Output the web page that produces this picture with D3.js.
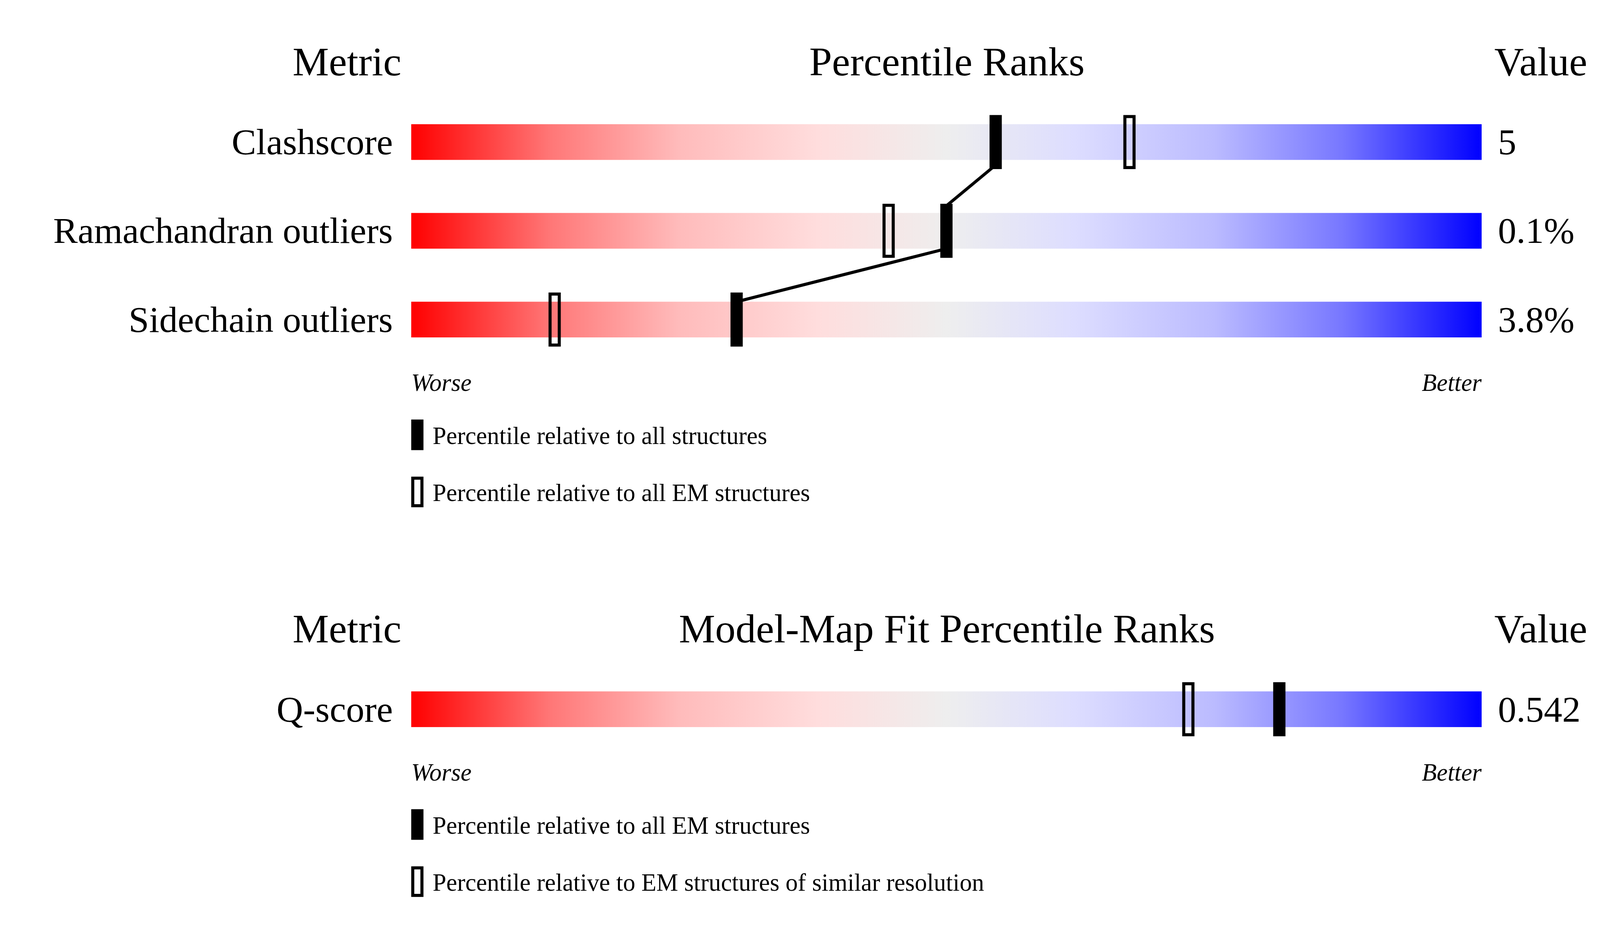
<!DOCTYPE html>
<html><head><meta charset="utf-8">
<script src="https://cdn.jsdelivr.net/npm/d3@7"></script>
<style>html,body{margin:0;padding:0;overflow:hidden;background:#fff}svg{display:block}text{font-family:"Liberation Serif","DejaVu Serif",serif}</style>
</head><body><div id="chart"></div>
<script>
// panel 1
const metrics = ["Clashscore", "Ramachandran outliers", "Sidechain outliers"];
const values = ["5", "0.1%", "3.8%"];
const pctAll = [54.6, 50.0, 30.4];
const pctEM = [67.1, 44.6, 13.4];
const legend1 = ["Percentile relative to all structures", "Percentile relative to all EM structures"];
// panel 2
const metrics2 = ["Q-score"];
const values2 = ["0.542"];
const pctAllEM = [81.1];
const pctRes = [72.6];
const legend2 = ["Percentile relative to all EM structures", "Percentile relative to EM structures of similar resolution"];

const svg = d3.select("#chart").append("svg")
    .style("width", "100vw").style("height", "100vh")
    .attr("viewBox", "0 0 1568 840")
    .attr("preserveAspectRatio", "xMidYMid meet");

const grad = svg.append("defs").append("linearGradient").attr("id", "g");
[[0, "#ff0000"], [0.13, "#ff7777"], [0.25, "#ffbbbb"], [0.38, "#ffdddd"], [0.5, "#eeeeee"],
 [0.62, "#ddddff"], [0.75, "#bbbbff"], [0.87, "#7777ff"], [1, "#0000ff"]]
    .forEach(s => grad.append("stop").attr("offset", s[0]).attr("stop-color", s[1]));

const x = d3.scaleLinear().domain([0, 100]).range([403, 1452]);
const barH = 35, mkH = 53, mkW = 12;

function panel(top, title, names, vals, filled, open, leg, connect) {
    const y = d3.scaleBand().domain(names).range([top + 56, top + 56 + 87 * names.length]);
    const g = svg.append("g");
    g.append("text").attr("x", 340).attr("y", top + 34).attr("text-anchor", "middle").attr("font-size", 40).text("Metric");
    g.append("text").attr("x", 928).attr("y", top + 34).attr("text-anchor", "middle").attr("font-size", 40).text(title);
    g.append("text").attr("x", 1510).attr("y", top + 34).attr("text-anchor", "middle").attr("font-size", 40).text("Value");
    const cy = d => y(d) + y.bandwidth() / 2;
    names.forEach((n, i) => {
        const c = cy(n);
        g.append("rect").attr("x", x(0)).attr("y", c - barH / 2).attr("width", x(100) - x(0)).attr("height", barH).attr("fill", "url(#g)");
        g.append("text").attr("x", 385).attr("y", c + 12).attr("text-anchor", "end").attr("font-size", 36).text(n);
        g.append("text").attr("x", 1468).attr("y", c + 12).attr("font-size", 36).text(vals[i]);
    });
    if (connect) {
        const pts = [];
        names.forEach((n, i) => {
            if (i > 0) pts.push([[x(filled[i - 1]), cy(names[i - 1]) + (i === 1 ? mkH / 2 - 4 : barH / 2)],
                                 [x(filled[i]), cy(n) - (i === 1 ? mkH / 2 - 2 : barH / 2)]]);
        });
        pts.forEach(p => g.append("path").attr("d", d3.line()(p)).attr("stroke", "#000").attr("stroke-width", 3).attr("fill", "none"));
    }
    names.forEach((n, i) => {
        const c = cy(n);
        g.append("rect").attr("x", x(open[i]) - mkW / 2 + 1.5).attr("y", c - mkH / 2 + 1.5).attr("width", mkW - 3).attr("height", mkH - 3)
            .attr("fill", "none").attr("stroke", "#000").attr("stroke-width", 3);
        g.append("rect").attr("x", x(filled[i]) - mkW / 2).attr("y", c - mkH / 2).attr("width", mkW).attr("height", mkH).attr("fill", "#000");
    });
    const lc = cy(names[names.length - 1]);
    g.append("text").attr("x", 403).attr("y", lc + 70).attr("font-size", 24).attr("font-style", "italic").text("Worse");
    g.append("text").attr("x", 1452).attr("y", lc + 70).attr("text-anchor", "end").attr("font-size", 24).attr("font-style", "italic").text("Better");
    leg.forEach((t, i) => {
        const ly = lc + 98 + i * 56;
        if (i === 0) g.append("rect").attr("x", 403).attr("y", ly).attr("width", 12).attr("height", 30).attr("fill", "#000");
        else g.append("rect").attr("x", 404.5).attr("y", ly + 1.5).attr("width", 9).attr("height", 27).attr("fill", "none").attr("stroke", "#000").attr("stroke-width", 3);
        g.append("text").attr("x", 424).attr("y", ly + 24).attr("font-size", 24).text(t);
    });
}

panel(0, "Percentile Ranks", metrics, values, pctAll, pctEM, legend1, true);
panel(556, "Model-Map Fit Percentile Ranks", metrics2, values2, pctAllEM, pctRes, legend2, false);
</script></body></html>
